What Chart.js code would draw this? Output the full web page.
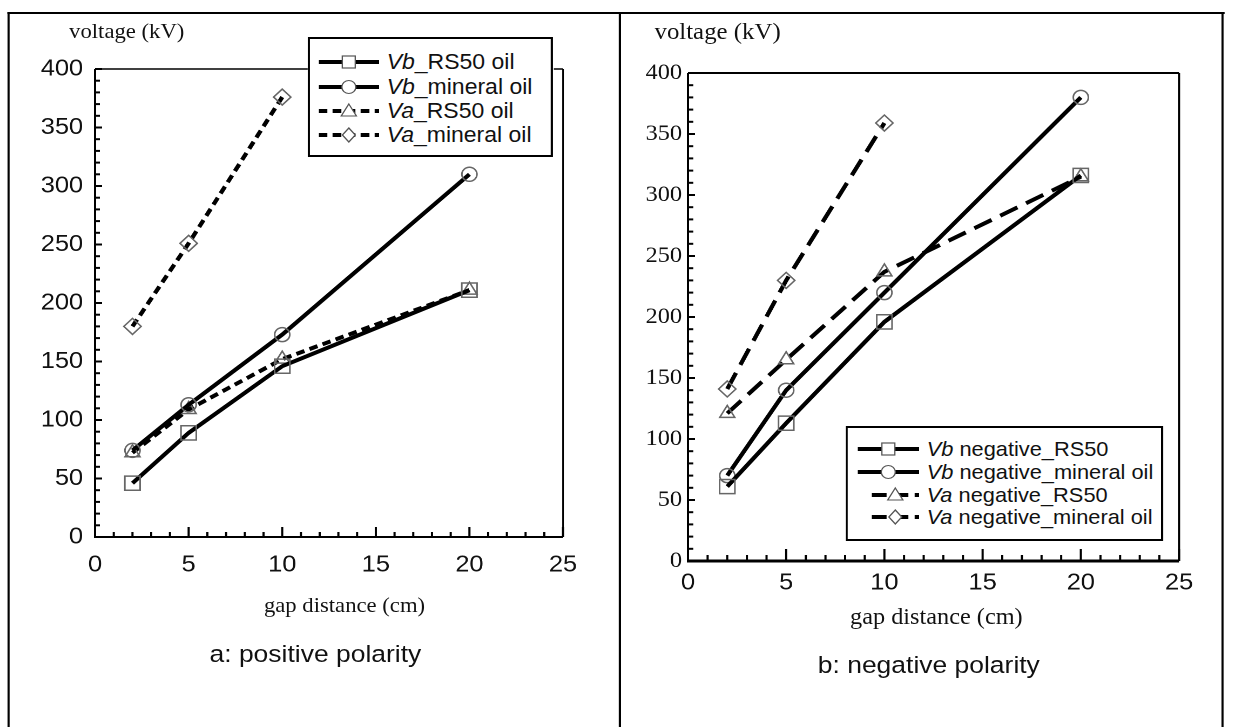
<!DOCTYPE html>
<html>
<head>
<meta charset="utf-8">
<script src="https://cdn.jsdelivr.net/npm/chart.js@4"></script>
<style>
  html, body { margin: 0; padding: 0; background: #fff; overflow: hidden; }
  /* the scanned figure is a bit stretched sideways, so stretch the page the same way */
  #page { position: absolute; left: 0; top: 0; width: 1142px; height: 727px; transform: scaleX(1.08); transform-origin: 0 0; }
  .vline { position: absolute; top: 12px; width: 2px; height: 720px; background: #000; }
  .hline { position: absolute; top: 12px; height: 2px; background: #000; }
  .txt { position: absolute; white-space: nowrap; color: #111; line-height: 1; }
  .serif { font-family: 'Liberation Serif', 'Times New Roman', serif; }
  .sans { font-family: 'Liberation Sans', Arial, sans-serif; }
  .mid { transform: translateX(-50%); }
  canvas { position: absolute; top: 0; }
  .legend { position: absolute; background: #fff; border: 2px solid #000; box-sizing: border-box; }
  .row { position: absolute; left: 0; height: 24px; }
  .row svg { position: absolute; top: 2px; }
  .row span { position: absolute; top: 1px; white-space: nowrap; color: #111; font-family: 'Liberation Sans', Arial, sans-serif; line-height: 22px; }
</style>
</head>
<body>
<div id="page">
  <div class="hline" style="left:7px;width:1127px"></div>
  <div class="vline" style="left:7px"></div>
  <div class="vline" style="left:573px"></div>
  <div class="vline" style="left:1131px"></div>

  <canvas id="posChart" width="574" height="600" style="left:0"></canvas>
  <canvas id="negChart" width="567" height="620" style="left:574px"></canvas>

  <div class="txt serif" style="left:64px;top:21px;font-size:21px">voltage (kV)</div>
  <div class="txt serif mid" style="left:319px;top:595px;font-size:21px">gap distance (cm)</div>
  <div class="txt sans mid" style="left:292px;top:642px;font-size:24.5px">a: positive polarity</div>

  <div class="txt serif" style="left:606px;top:20px;font-size:23px">voltage (kV)</div>
  <div class="txt serif mid" style="left:867px;top:606px;font-size:22.5px">gap distance (cm)</div>
  <div class="txt sans mid" style="left:860px;top:653px;font-size:24.5px">b: negative polarity</div>

  <div id="posLegend" class="legend" style="left:285px;top:37px;width:227px;height:120px"></div>
  <div id="negLegend" class="legend" style="left:783px;top:426px;width:294px;height:115px"></div>
</div>

<script>
// gap distance (cm)
const gapCm = [2, 5, 10, 20];

// a: positive polarity, voltage (kV)
const posVbRS50 = [46, 89, 146, 211];
const posVbMineral = [74, 113, 173, 310];
const posVaRS50 = [72, 109, 152, 211];
const posVaMineral = [180, 251, 376];

// b: negative polarity, voltage (kV)
const negVbRS50 = [61, 113, 196, 316];
const negVbMineral = [70, 140, 220, 380];
const negVaRS50 = [121, 165, 237, 315];
const negVaMineral = [141, 230, 359];

const posNames = ['Vb_RS50 oil', 'Vb_mineral oil', 'Va_RS50 oil', 'Va_mineral oil'];
const negNames = ['Vb negative_RS50', 'Vb negative_mineral oil', 'Va negative_RS50', 'Va negative_mineral oil'];

const xRange = [0, 25];
const yRange = [0, 400];
const xStep = 5;
const yStep = 50;

const shapes = ['rect', 'circle', 'triangle', 'rectRot'];
const radii = [10, 7, 8, 8];

// plot frame + inward minor/major tick marks
const frameTicks = {
    id: 'frameTicks',
    beforeDatasetsDraw(chart, args, o) {
        const {ctx, chartArea: a, scales: {x, y}} = chart;
        ctx.save();
        ctx.strokeStyle = '#000';
        const seg = (x1, y1, x2, y2, w) => {
            ctx.lineWidth = w;
            ctx.beginPath();
            ctx.moveTo(x1, y1);
            ctx.lineTo(x2, y2);
            ctx.stroke();
        };
        seg(a.left, a.top, a.right, a.top, o.top);
        seg(a.right, a.top, a.right, a.bottom, o.right);
        for (let v = x.min; v <= x.max; v += 1) {
            const px = x.getPixelForValue(v);
            seg(px, a.bottom, px, a.bottom - (v % xStep === 0 ? o.xMajor : o.xMinor), 2);
        }
        for (let v = y.min; v <= y.max; v += 10) {
            const py = y.getPixelForValue(v);
            seg(a.left, py, a.left + (v % yStep === 0 ? o.yMajor : o.yMinor), py, 2);
        }
        seg(a.left, a.top, a.left, a.bottom + o.bottom / 2, o.left);
        seg(a.left, a.bottom, a.right, a.bottom, o.bottom);
        ctx.restore();
    }
};

const pts = (ys) => ys.map((v, i) => ({x: gapCm[i], y: v}));

function makeChart(id, series, dash, L) {
    const datasets = series.map((ys, i) => ({
        data: pts(ys),
        borderColor: '#000',
        borderWidth: 4,
        borderDash: i < 2 ? [] : dash,
        tension: 0,
        fill: false,
        pointStyle: shapes[i],
        pointRadius: radii[i],
        pointBorderColor: '#666',
        pointBorderWidth: 1.5,
        pointBackgroundColor: 'rgba(0,0,0,0)'
    }));
    return new Chart(document.getElementById(id), {
        type: 'line',
        data: {datasets: datasets},
        plugins: [frameTicks],
        options: {
            responsive: false,
            animation: false,
            devicePixelRatio: 2,
            layout: {padding: {left: 0, top: L.top, right: L.right, bottom: 0}},
            plugins: {
                legend: {display: false},
                tooltip: {enabled: false},
                frameTicks: L.frame
            },
            scales: {
                x: {
                    type: 'linear',
                    min: xRange[0],
                    max: xRange[1],
                    grid: {display: false, drawTicks: false},
                    border: {display: false},
                    ticks: {stepSize: xStep, padding: L.xPad, color: '#111', font: {family: 'Liberation Sans', size: 23.5}},
                    afterFit: (s) => { s.height = L.xH; }
                },
                y: {
                    min: yRange[0],
                    max: yRange[1],
                    grid: {display: false, drawTicks: false},
                    border: {display: false},
                    ticks: {stepSize: yStep, padding: L.yPad, color: '#111', font: {family: L.yFont, size: L.ySize}},
                    afterFit: (s) => { s.width = L.yW; }
                }
            }
        }
    });
}

makeChart('posChart', [posVbRS50, posVbMineral, posVaRS50, posVaMineral], [8, 5], {
    top: 69, right: 52.7, xH: 63, yW: 88, xPad: 14, yPad: 11,
    yFont: 'Liberation Sans', ySize: 23.5,
    frame: {top: 1.5, right: 1.5, left: 2, bottom: 2, xMajor: 10, xMinor: 5, yMajor: 6.5, yMinor: 4.5}
});

makeChart('negChart', [negVbRS50, negVbMineral, negVaRS50, negVaMineral], [18, 9], {
    top: 73, right: 49.3, xH: 59, yW: 63, xPad: 8, yPad: 5.5,
    yFont: 'Liberation Serif', ySize: 22.5,
    frame: {top: 2, right: 2, left: 2, bottom: 3, xMajor: 12, xMinor: 6, yMajor: 6.5, yMinor: 5}
});

// html legends, marker drawn on the line sample
function markerSvg(shape, cx) {
    const s = '#555';
    if (shape === 'rect') return `<rect x="${cx - 6}" y="4" width="12" height="12" fill="#fff" stroke="${s}" stroke-width="1.2"/>`;
    if (shape === 'circle') return `<circle cx="${cx}" cy="10" r="6.5" fill="#fff" stroke="${s}" stroke-width="1.2"/>`;
    if (shape === 'triangle') return `<polygon points="${cx},3 ${cx + 7},15 ${cx - 7},15" fill="#fff" stroke="${s}" stroke-width="1.2"/>`;
    return `<polygon points="${cx},3 ${cx + 6},10 ${cx},17 ${cx - 6},10" fill="#fff" stroke="${s}" stroke-width="1.2"/>`;
}

function buildLegend(id, names, rows, dash, fontSize, samples, textLeft) {
    const box = document.getElementById(id);
    names.forEach((name, i) => {
        const [x0, w] = samples[i];
        const row = document.createElement('div');
        row.className = 'row';
        row.style.top = (rows[i] - 12) + 'px';
        row.style.width = '100%';
        const dashAttr = i < 2 ? '' : `stroke-dasharray="${dash}"`;
        row.innerHTML =
            `<svg style="left:${x0}px" width="${w}" height="20">` +
            `<line x1="0" y1="10" x2="${w}" y2="10" stroke="#000" stroke-width="4" ${dashAttr}/>` +
            markerSvg(shapes[i], w / 2) + `</svg>` +
            `<span style="left:${textLeft}px;font-size:${fontSize}px"><i>${name.slice(0, 2)}</i>${name.slice(2)}</span>`;
        box.appendChild(row);
    });
}

buildLegend('posLegend', posNames, [23, 48, 72, 96], '8 5', 21.3, [[8, 56], [8, 56], [8, 56], [8, 56]], 71);
buildLegend('negLegend', negNames, [21, 44, 67, 89], '14 6', 20.2, [[9, 57], [9, 57], [22, 44], [22, 44]], 73);
</script>
</body>
</html>
